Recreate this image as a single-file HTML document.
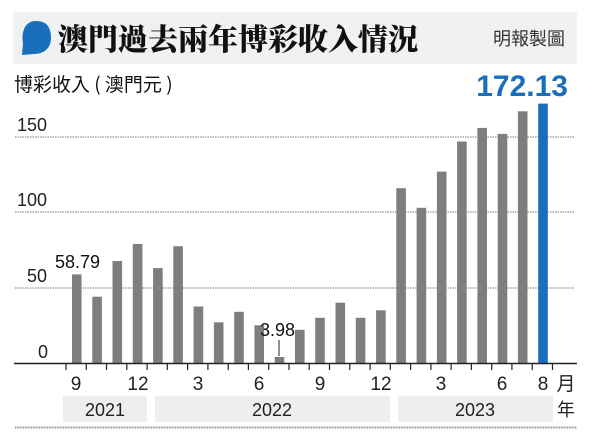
<!DOCTYPE html>
<html><head><meta charset="utf-8"><style>
body{margin:0;background:#fff;width:600px;height:438px;overflow:hidden;font-family:"Liberation Sans","Noto Sans CJK TC",sans-serif}
</style></head><body>
<svg width="600" height="438" xmlns="http://www.w3.org/2000/svg" style="position:absolute;left:0;top:0">
<rect x="13" y="12" width="564" height="52" fill="#f0f1f2"/>
<path d="M36 21 C48 21 51 29 51 38 C51 48 44 54 34 54 L22 55 L23 43 C21 30 26 21 36 21Z" fill="#1a6fbd"/>
<text x="58" y="50" font-family="'Noto Serif CJK SC',serif" font-weight="900" font-size="30" fill="#111">澳門過去兩年博彩收入情況</text>
<text x="565" y="45" text-anchor="end" font-size="18" fill="#333" font-family="'Noto Sans CJK TC',sans-serif">明報製圖</text>
<text x="14" y="91" font-size="19" fill="#111" font-family="'Noto Sans CJK TC',sans-serif">博彩收入 ( 澳門元 )</text>
<text x="568" y="96" text-anchor="end" font-size="30" font-weight="bold" fill="#1a6fbd">172.13</text>
<g stroke="#777" stroke-dasharray="1.5,1" stroke-width="1">
<line x1="15" y1="137" x2="575" y2="137"/><line x1="15" y1="212" x2="575" y2="212"/><line x1="15" y1="288" x2="575" y2="288"/>
</g>
<g font-size="18" fill="#222">
<text x="17" y="131">150</text><text x="17" y="206">100</text><text x="27" y="282">50</text><text x="38" y="358">0</text>
</g>
<g fill="#7b7f82" id="bars"></g>
<line x1="14" y1="363.5" x2="577" y2="363.5" stroke="#222" stroke-width="1.5"/>
<g stroke="#222" stroke-width="1.2" id="ticks"></g>
<text x="55" y="268" font-size="18" fill="#111">58.79</text>
<text x="260" y="336" font-size="18" fill="#111">3.98</text>
<line x1="279" y1="340" x2="279" y2="356" stroke="#222" stroke-width="1"/>
<g font-size="19" fill="#222" text-anchor="middle">
<text x="76" y="390">9</text><text x="138" y="390">12</text><text x="198" y="390">3</text><text x="259" y="390">6</text>
<text x="320" y="390">9</text><text x="381" y="390">12</text><text x="441" y="390">3</text><text x="502" y="390">6</text><text x="543" y="390">8</text>
<text x="566" y="390" font-family="'Noto Sans CJK TC',sans-serif">月</text>
</g>
<rect x="63" y="396" width="84" height="26" fill="#eeeeee"/>
<rect x="155" y="396" width="235" height="26" fill="#eeeeee"/>
<rect x="398" y="396" width="155" height="26" fill="#eeeeee"/>
<g font-size="18" fill="#222" text-anchor="middle">
<text x="105" y="416">2021</text><text x="272" y="416">2022</text><text x="475" y="416">2023</text>
<text x="566" y="416" font-family="'Noto Sans CJK TC',sans-serif">年</text>
</g>
<line x1="15" y1="427.5" x2="577" y2="427.5" stroke="#999" stroke-width="2" stroke-dasharray="1,0.6"/>
</svg>
<script>
var v=[58.79,44,67.7,79,63,77.5,37.5,27,34,25,3.98,22,30,40,30,35,116,103,127,147,156,152,167,172.13];
var b='',t='';
for(var i=0;i<24;i++){var x=72+20.27*i,h=v[i]*1.507;
b+='<rect x="'+x.toFixed(1)+'" y="'+(363-h).toFixed(1)+'" width="9.6" height="'+h.toFixed(1)+'" fill="'+(i==23?'#1a6fbd':'#7b7f82')+'"/>';}
for(var k=0;k<25;k++){var tx=66+20.27*k;t+='<line x1="'+tx.toFixed(1)+'" y1="363" x2="'+tx.toFixed(1)+'" y2="370"/>';}
document.getElementById('bars').innerHTML=b;document.getElementById('ticks').innerHTML=t;
</script>
</body></html>
